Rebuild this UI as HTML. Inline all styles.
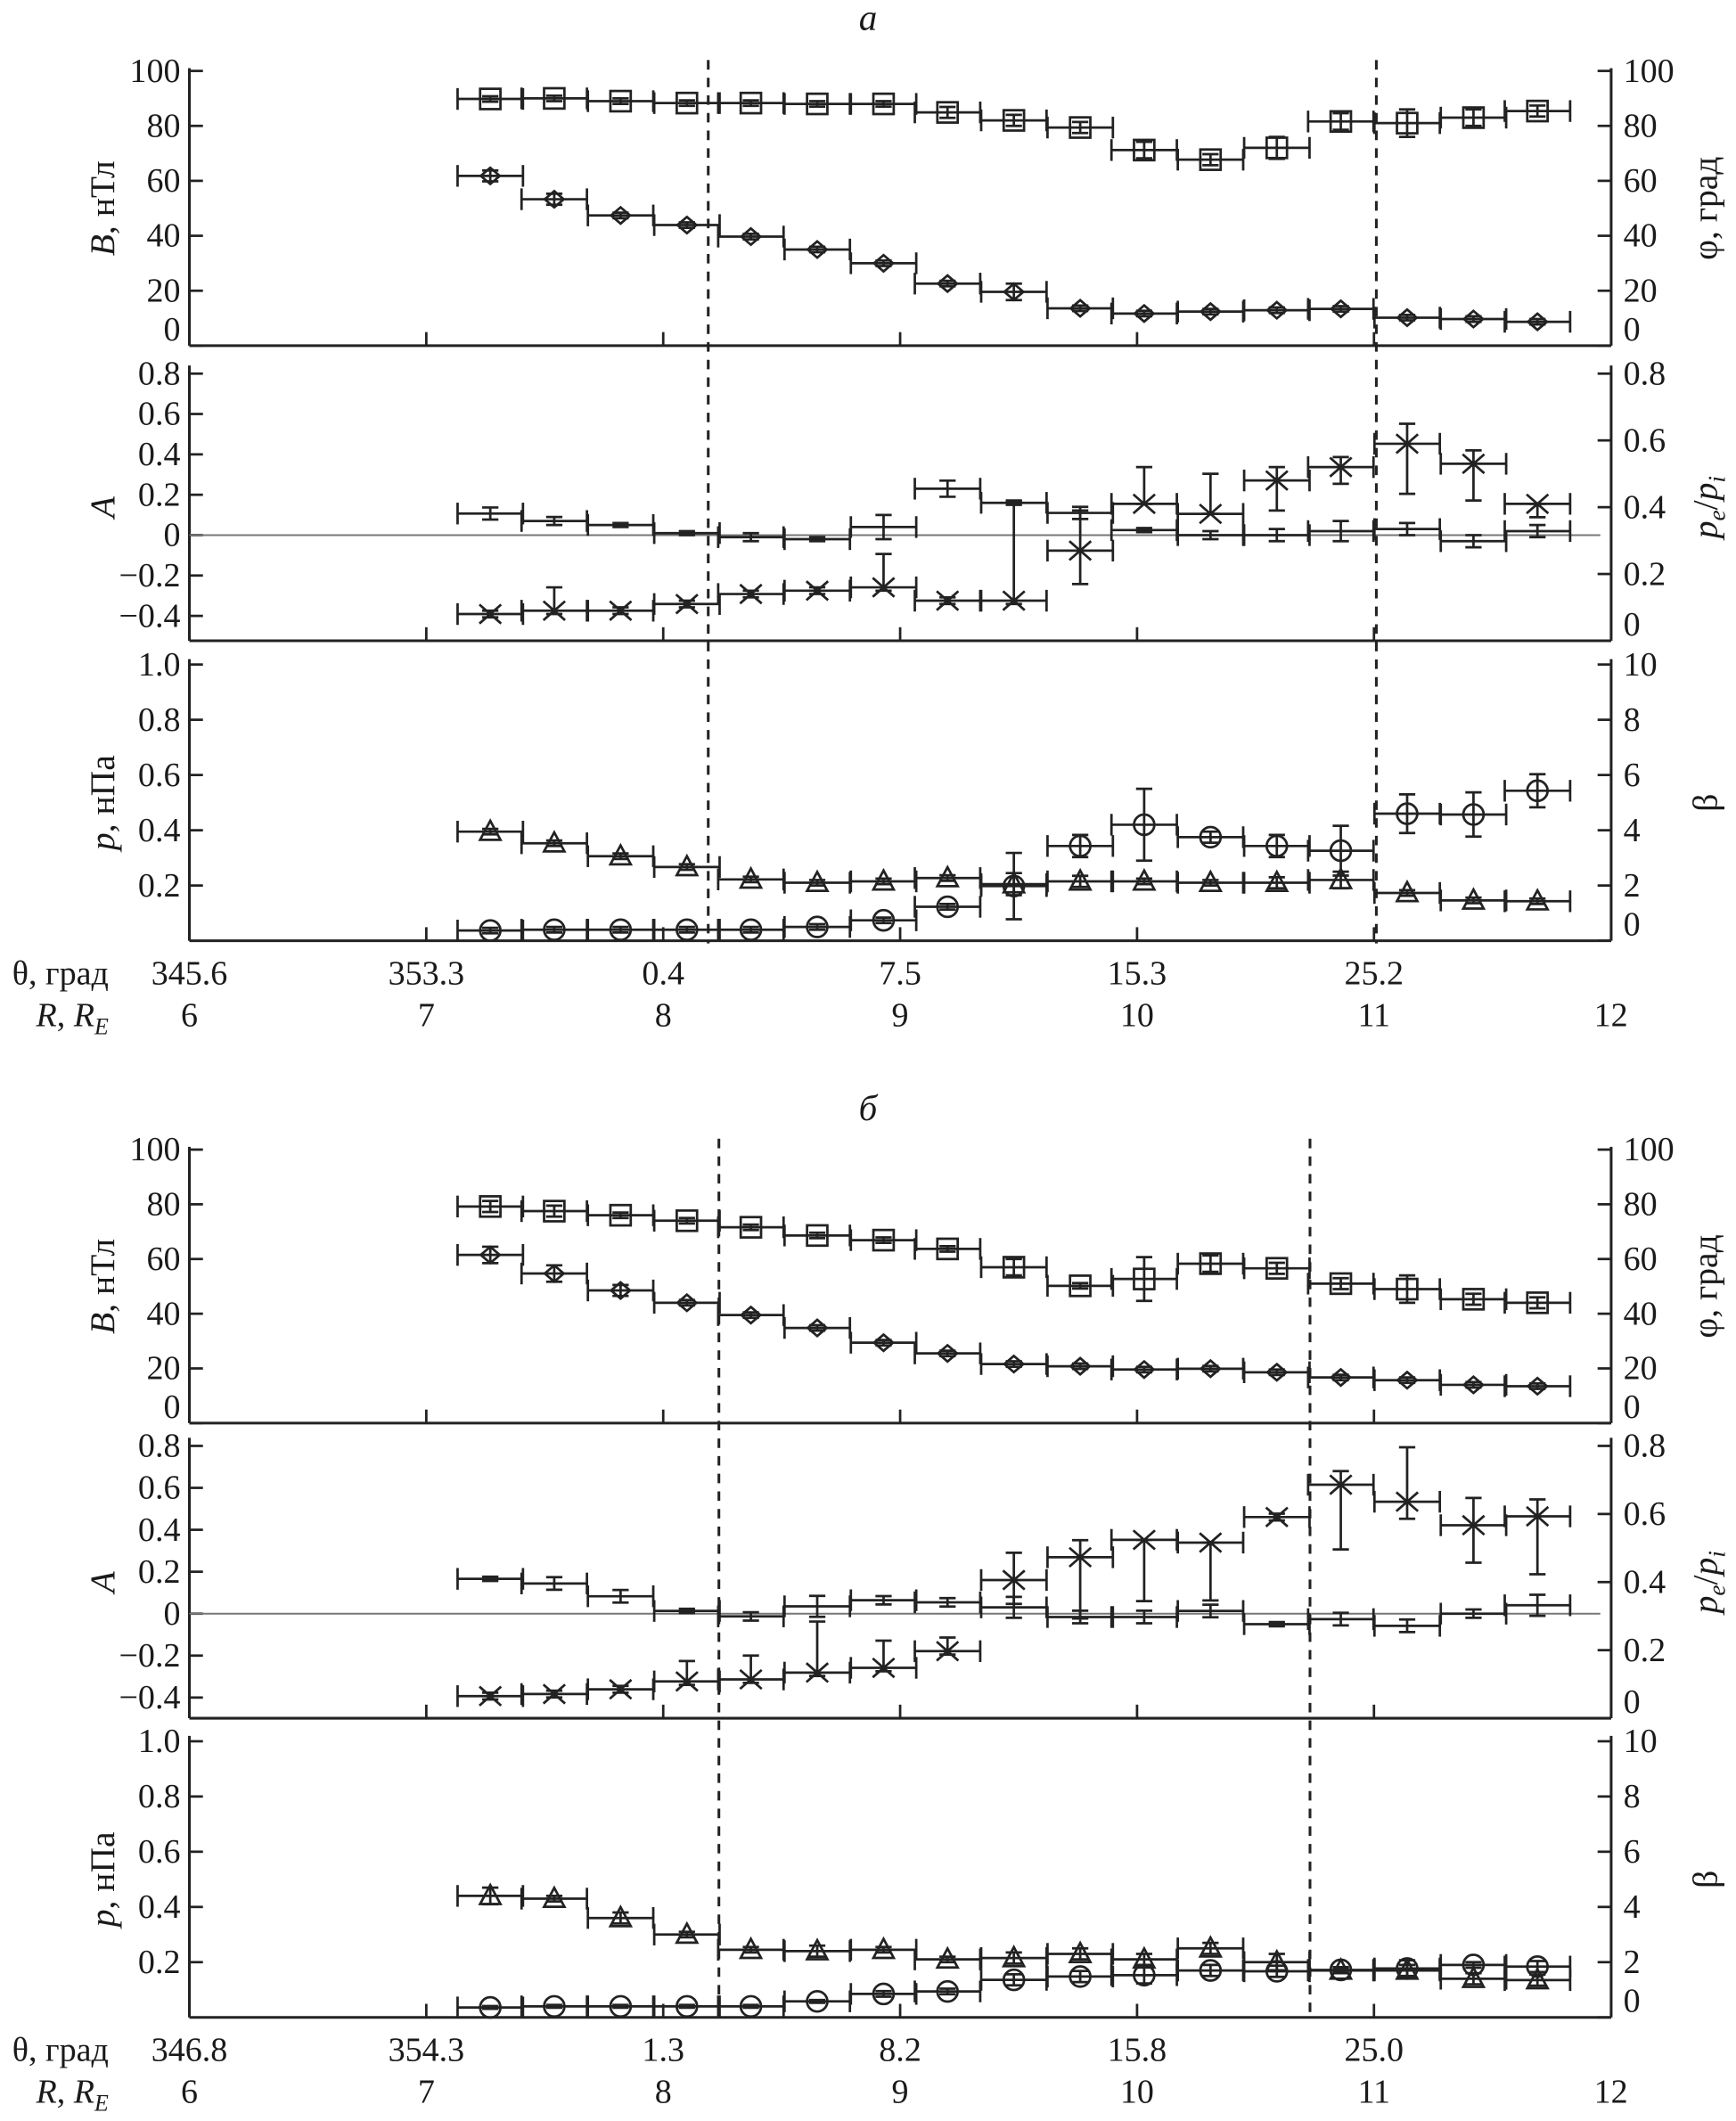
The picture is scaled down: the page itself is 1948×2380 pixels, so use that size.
<!DOCTYPE html>
<html><head><meta charset="utf-8">
<style>
html,body{margin:0;padding:0;background:#fff;}
svg{display:block;font-family:"Liberation Serif","DejaVu Serif",serif;}
svg text{font-family:"Liberation Serif","DejaVu Serif",serif;fill:#1a1a1a;}
</style></head>
<body>
<svg id="fig" width="1948" height="2380" viewBox="0 0 1280 1564" font-family="Liberation Serif, DejaVu Serif, serif" xmlns="http://www.w3.org/2000/svg"></svg>
<script>
// ---------- DATA ----------
const binCentersR = [7.27,7.54,7.82,8.10,8.37,8.65,8.93,9.20,9.48,9.76,10.03,10.31,10.59,10.86,11.14,11.42,11.69];
const binHalfR = 0.138;
const rTicks = [6,7,8,9,10,11,12];
const thetaA = ["345.6","353.3","0.4","7.5","15.3","25.2"];
const thetaB = ["346.8","354.3","1.3","8.2","15.8","25.0"];
const dashedA = [8.19, 11.01];
const dashedB = [8.235, 10.73];
const bTicks = [0,20,40,60,80,100];
const aTicks = [-0.4,-0.2,0,0.2,0.4,0.6,0.8];
const peTicks = [0,0.2,0.4,0.6,0.8];
const pTicks = [0.2,0.4,0.6,0.8,1.0];
const pTickLabels = ["0.2","0.4","0.6","0.8","1.0"];
const betaTicks = [0,2,4,6,8,10];

// panel а
const phiA  = [89.8,90,89,88.3,88.3,88,88,84.9,82,79.4,71.2,67.7,72,81.6,81,83,85.4];
const phiAerr = [1,1,1,1,1,1,1,2,2,2,3,2,4,3,5,3,2];
const bA    = [61.8,53.3,47.4,43.9,39.7,35,30,22.6,19.6,13.6,11.7,12.4,12.9,13.4,10.2,9.7,8.7];
const bAerr = [2,2,1,1,1,1,1,1,3,1,1,1,1,1,1,1,1];
const aA    = [0.107,0.07,0.05,0.01,-0.01,-0.02,0.04,0.23,0.16,0.11,0.025,0.0,0.0,0.02,0.03,-0.03,0.02];
const aAerr = [0.03,0.02,0.01,0.01,0.02,0.01,0.06,0.04,0.01,0.03,0.01,0.02,0.03,0.05,0.03,0.03,0.03];
const peA   = [0.08,0.09,0.09,0.11,0.14,0.15,0.16,0.12,0.12,0.27,0.41,0.38,0.48,0.52,0.59,0.53,0.41];
const peAhi = [0.01,0.07,0.01,0.01,0.01,0.01,0.1,0.01,0.3,0.12,0.11,0.12,0.04,0.03,0.06,0.04,0.0];
const peAlo = [0.01,0.01,0.01,0.01,0.01,0.01,0.01,0.01,0.01,0.1,0.0,0.0,0.09,0.05,0.15,0.11,0.04];
const pA    = [0.395,0.353,0.306,0.267,0.222,0.21,0.215,0.227,0.205,0.215,0.215,0.21,0.21,0.22,0.173,0.146,0.143];
const pAerr = [0.01,0.01,0.01,0.01,0.01,0.01,0.01,0.01,0.04,0.02,0.01,0.01,0.02,0.03,0.01,0.01,0.01];
const betaA = [0.37,0.4,0.4,0.4,0.4,0.5,0.74,1.23,1.98,3.43,4.2,3.75,3.43,3.26,4.6,4.57,5.43];
const betaAerr = [0.1,0.1,0.1,0.1,0.1,0.1,0.1,0.1,1.2,0.4,1.3,0.2,0.4,0.9,0.7,0.8,0.6];

// panel б
const phiB  = [79.2,77.5,76,74,71.6,68.6,66.9,63.7,57,50.2,52.7,58.3,56.6,51,49,45.3,44];
const phiBerr = [2,2,1,1,1,1,1,1,3,1,8,3,2,2,5,2,2];
const bB    = [61.5,54.7,48.5,44,39.5,34.8,29.4,25.5,21.6,20.8,19.6,19.9,18.6,16.7,15.7,14,13.5];
const bBerr = [3,3,2,1,1,1,1,1,1,1,1,1,1,1,1,1,1];
const aB    = [0.166,0.144,0.083,0.013,-0.013,0.035,0.064,0.054,0.03,-0.016,-0.016,0.013,-0.05,-0.026,-0.058,0.0,0.04];
const aBerr = [0.01,0.03,0.03,0.01,0.02,0.05,0.02,0.02,0.05,0.03,0.03,0.03,0.01,0.03,0.03,0.02,0.05];
const peB   = [0.065,0.071,0.085,0.108,0.114,0.134,0.148,0.197,0.406,0.473,0.524,0.516,0.591,0.686,0.636,0.567,0.593];
const peBhi = [0.01,0.01,0.01,0.06,0.07,0.15,0.08,0.04,0.08,0.05,0.0,0.0,0.01,0.04,0.16,0.08,0.05];
const peBlo = [0.01,0.01,0.01,0.01,0.01,0.01,0.01,0.01,0.07,0.18,0.18,0.17,0.01,0.19,0.05,0.11,0.17];
const pB    = [0.44,0.43,0.36,0.30,0.245,0.24,0.245,0.21,0.215,0.23,0.21,0.25,0.2,0.17,0.17,0.14,0.135];
const pBerr = [0.03,0.01,0.02,0.01,0.01,0.02,0.01,0.01,0.02,0.02,0.02,0.02,0.03,0.01,0.02,0.02,0.02];
const betaB = [0.36,0.4,0.4,0.4,0.4,0.58,0.85,0.94,1.36,1.48,1.53,1.7,1.67,1.72,1.77,1.9,1.84];
const betaBerr = [0.05,0.05,0.05,0.05,0.05,0.05,0.1,0.1,0.2,0.2,0.3,0.2,0.2,0.1,0.3,0.1,0.2];

// ---------- DRAWING ----------
const NS = "http://www.w3.org/2000/svg";
const svg = document.getElementById("fig");
const INK = "#222";
const FONT = "Liberation Serif, DejaVu Serif, serif";
function mk(tag, attrs, parent){
  const e = document.createElementNS(NS, tag);
  for (const k in attrs) e.setAttribute(k, attrs[k]);
  (parent||svg).appendChild(e);
  return e;
}
const XL = 139.6, XR = 1188;
function xR(r){ return XL + (r-6)*174.7; }
function lin(v0, y0, v1, y1){ return v => y0 + (v-v0)*(y1-y0)/(v1-v0); }
function line(g,x1,y1,x2,y2,w,col){ return mk("line",{x1,y1,x2,y2,stroke:col||INK,"stroke-width":w||1.8},g); }
function txt(g,x,y,s,opt){
  const t = mk("text",Object.assign({x,y,"font-size":25,"font-family":FONT},opt||{}),g);
  t.textContent = s; return t;
}

function marker(g,type,cx,cy){
  const st = {fill:"none",stroke:INK,"stroke-width":1.8};
  let m;
  if(type==="square") m = mk("rect",Object.assign({x:cx-7.5,y:cy-7.5,width:15,height:15},st),g);
  else if(type==="diamond") m = mk("polygon",Object.assign({points:`${cx},${cy-6} ${cx+7},${cy} ${cx},${cy+6} ${cx-7},${cy}`},st),g);
  else if(type==="circle") m = mk("circle",Object.assign({cx,cy,r:7.5},st),g);
  else if(type==="triangle") m = mk("polygon",Object.assign({points:`${cx},${cy-8} ${cx+7.5},${cy+6} ${cx-7.5},${cy+6}`},st),g);
  else if(type==="cross"){ m = mk("path",Object.assign({d:`M${cx-8},${cy-7}L${cx+8},${cy+7}M${cx-8},${cy+7}L${cx+8},${cy-7}`},st),g); }
  return m;
}

function series(parent, name, vals, errHi, errLo, ys, type){
  const g = mk("g",{},parent);
  
  
  vals.forEach((v,i)=>{
    const cx = xR(binCentersR[i]);
    const xa = xR(binCentersR[i]-binHalfR), xb = xR(binCentersR[i]+binHalfR);
    const cy = ys(v);
    const pt = mk("g",{},g);
    
    
    line(pt,xa,cy,xb,cy,1.8);
    line(pt,xa,cy-8,xa,cy+8,1.8);
    line(pt,xb,cy-8,xb,cy+8,1.8);
    const yt = ys(v+errHi[i]), yb = ys(v-errLo[i]);
    line(pt,cx,yt,cx,yb,1.8);
    line(pt,cx-6,yt,cx+6,yt,1.8);
    line(pt,cx-6,yb,cx+6,yb,1.8);
    if(type) marker(pt,type,cx,cy);
  });
}

function leftAxis(g,name,top,bot,ticks,labels,ys){
  const a = mk("g",{},g);
  
  
  line(a,XL,top,XL,bot,2);
  ticks.forEach((t,i)=>{
    const y = ys(t);
    line(a,XL,y,XL+10,y,1.8);
    let ty = y+8;
    if (y > bot-4) ty = bot-4;
    txt(a,133,ty,labels[i],{"text-anchor":"end"});
  });
}
function rightAxis(g,name,top,bot,ticks,labels,ys){
  const a = mk("g",{},g);
  
  
  line(a,XR,top,XR,bot,2);
  ticks.forEach((t,i)=>{
    const y = ys(t);
    line(a,XR-10,y,XR,y,1.8);
    let ty = y+8;
    if (y > bot-4) ty = bot-4;
    txt(a,1197,ty,labels[i],{"text-anchor":"start"});
  });
}
function bottomAxis(g,name,y){
  const a = mk("g",{},g);
  
  
  line(a,XL,y,XR,y,2);
  rTicks.slice(1,-1).forEach(r=>{ line(a,xR(r),y,xR(r),y-10,1.8); });
}
function vtitle(g,name,x,y,parts){
  const t = mk("text",{x:0,y:0,"font-size":26,"font-family":FONT,"text-anchor":"middle",transform:`translate(${x},${y}) rotate(-90)`},g);
  
  
  parts.forEach(p=>{
    const s = mk("tspan",p.attrs||{},t);
    s.textContent = p.t;
  });
  return t;
}
function fmtA(v){ return v<0 ? "\u2212"+Math.abs(v).toFixed(1) : (v===0?"0":v.toFixed(1)); }

function drawFigure(name, title, titleY, L, D, thetaLabels, dashes){
  const g = mk("g",{});
  
  
  const tt = txt(g,640,titleY,title,{"text-anchor":"middle","font-style":"italic","font-size":27});
  
  

  const yB = lin(0,L.b0,100,L.b100);
  leftAxis(g,'b-axis',L.b100-2,L.b0,bTicks,bTicks.map(String),yB);
  rightAxis(g,'phi-axis',L.b100-2,L.b0,bTicks,bTicks.map(String),yB);
  bottomAxis(g,'b-panel-x-axis',L.b0);
  const yA = lin(0,L.a0,0.8,L.a08);
  const yPe = lin(0,L.aBot,0.8,L.a08);
  leftAxis(g,'a-axis',L.a08-6,L.aBot,aTicks,aTicks.map(fmtA),yA);
  rightAxis(g,'pe-pi-axis',L.a08-6,L.aBot,peTicks,peTicks.map(v=>v===0?"0":v.toFixed(1)),yPe);
  bottomAxis(g,'a-panel-x-axis',L.aBot);
  const zl = line(g,XL,yA(0),XR-8,yA(0),1.3,"#777");
  
  
  const yP = lin(0,L.p0,1,L.p1);
  const yBeta = lin(0,L.p0,10,L.p1);
  leftAxis(g,'p-axis',L.p1-4,L.p0,pTicks,pTickLabels,yP);
  rightAxis(g,'beta-axis',L.p1-4,L.p0,betaTicks,betaTicks.map(String),yBeta);
  bottomAxis(g,'p-panel-x-axis',L.p0);

  dashes.forEach(r=>{
    const d = line(g,xR(r),L.b100-8,xR(r),L.p0+2,2);
    d.setAttribute("stroke-dasharray","7,6");
    
    
  });

  series(g,'phi-series',D.phi,D.phiErr,D.phiErr,yB,'square');
  series(g,'b-series',D.b,D.bErr,D.bErr,yB,'diamond');
  series(g,'a-series',D.a,D.aErr,D.aErr,yA,null);
  series(g,'pe-pi-series',D.pe,D.peHi,D.peLo,yPe,'cross');
  series(g,'p-series',D.p,D.pErr,D.pErr,yP,'triangle');
  series(g,'beta-series',D.beta,D.betaErr,D.betaErr,yBeta,'circle');

  vtitle(g,'b-axis-title',84,(L.b0+L.b100)/2,[{t:"B",attrs:{"font-style":"italic"}},{t:", нТл"}]);
  vtitle(g,'a-axis-title',84,(L.a08+L.aBot)/2,[{t:"A",attrs:{"font-style":"italic"}}]);
  vtitle(g,'p-axis-title',84,(L.p0+L.p1)/2,[{t:"p",attrs:{"font-style":"italic"}},{t:", нПа"}]);
  vtitle(g,'phi-axis-title',1266,(L.b0+L.b100)/2,[{t:"φ, град"}]);
  vtitle(g,'pe-pi-axis-title',1266,(L.a08+L.aBot)/2,[{t:"p",attrs:{"font-style":"italic"}},{t:"e",attrs:{"font-style":"italic","font-size":18,dy:6}},{t:"/",attrs:{dy:-6}},{t:"p",attrs:{"font-style":"italic"}},{t:"i",attrs:{"font-style":"italic","font-size":18,dy:6}}]);
  vtitle(g,'beta-axis-title',1266,(L.p0+L.p1)/2,[{t:"β"}]);

  const xl = mk("g",{},g);
  
  
  txt(xl,80,L.p0+32,"θ, град",{"text-anchor":"end"});
  const rl = txt(xl,80,L.p0+63,"",{"text-anchor":"end"});
  const s1 = mk("tspan",{"font-style":"italic"},rl); s1.textContent="R";
  const s2 = mk("tspan",{},rl); s2.textContent=", ";
  const s3 = mk("tspan",{"font-style":"italic"},rl); s3.textContent="R";
  const s4 = mk("tspan",{"font-style":"italic","font-size":17,dy:6},rl); s4.textContent="E";
  thetaLabels.forEach((s,i)=>{ txt(xl,xR(rTicks[i]),L.p0+32,s,{"text-anchor":"middle"}); });
  rTicks.forEach(r=>{ txt(xl,xR(r),L.p0+63,String(r),{"text-anchor":"middle"}); });
}

drawFigure('panel-a','а',22,
  {b0:254.9,b100:52.3,a0:394.6,a08:275.5,aBot:472.5,p0:693.7,p1:490},
  {phi:phiA,phiErr:phiAerr,b:bA,bErr:bAerr,a:aA,aErr:aAerr,pe:peA,peHi:peAhi,peLo:peAlo,p:pA,pErr:pAerr,beta:betaA,betaErr:betaAerr},
  thetaA,dashedA);
drawFigure('panel-b','б',826,
  {b0:1049.4,b100:847.7,a0:1189.9,a08:1066.2,aBot:1267,p0:1487.6,p1:1284},
  {phi:phiB,phiErr:phiBerr,b:bB,bErr:bBerr,a:aB,aErr:aBerr,pe:peB,peHi:peBhi,peLo:peBlo,p:pB,pErr:pBerr,beta:betaB,betaErr:betaBerr},
  thetaB,dashedB);
</script>
</body></html>
